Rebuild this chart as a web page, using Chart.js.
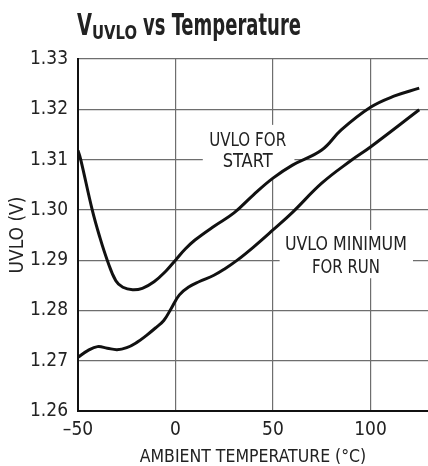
<!DOCTYPE html>
<html>
<head>
<meta charset="utf-8">
<script src="https://cdn.jsdelivr.net/npm/chart.js@4.4.0/dist/chart.umd.min.js"></script>
<style>
  html, body { margin: 0; padding: 0; background: #fff; }
</style>
</head>
<body>
<canvas id="uvloChart" width="428" height="466"></canvas>
<script>
// UVLO for start (upper curve)
const tempStart = [-50, -48.6, -42.7, -39, -35, -30.6, -27, -22, -17, -11, -5, 0, 5, 10, 20, 30, 40, 50, 60, 75, 85, 100, 112, 125];
const uvloStart = [1.3118, 1.3100, 1.3000, 1.2948, 1.2900, 1.2859, 1.2846, 1.2841, 1.2844, 1.2857, 1.2878, 1.2900, 1.2922, 1.2940, 1.2968, 1.2994, 1.3030, 1.3063, 1.3089, 1.3119, 1.3159, 1.3204, 1.3226, 1.3242];

// UVLO minimum for run (lower curve)
const tempRun = [-50, -45, -40, -35, -30, -25, -20, -15, -10, -6, -2.2, 2, 7, 12, 19.7, 25, 31.7, 40, 50, 60, 75, 90, 100, 125];
const uvloRun = [1.2707, 1.2720, 1.2728, 1.2725, 1.2722, 1.2726, 1.2736, 1.2750, 1.2766, 1.2780, 1.2804, 1.2831, 1.2847, 1.2857, 1.2870, 1.2882, 1.2900, 1.2926, 1.2960, 1.2995, 1.3053, 1.3098, 1.3125, 1.3199];

const xTicks = [-50, 0, 50, 100];
const yTicks = [1.26, 1.27, 1.28, 1.29, 1.30, 1.31, 1.32, 1.33];

const FONT = '"Liberation Sans Narrow", "Arial Narrow", "DejaVu Sans Condensed", sans-serif';
Chart.defaults.font.family = FONT;
Chart.defaults.color = '#222';

function pairs(xs, ys) {
  return xs.map((x, i) => ({ x: x, y: ys[i] }));
}

// text boxes on the grid + the title with subscript
const notes = {
  id: 'notes',
  beforeDatasetsDraw(chart) {
    const ctx = chart.ctx;
    const x = chart.scales.x, y = chart.scales.y;
    ctx.save();
    ctx.fillStyle = '#fff';
    ctx.fillRect(x.getPixelForValue(14), y.getPixelForValue(1.3169), x.getPixelForValue(61) - x.getPixelForValue(14), y.getPixelForValue(1.3064) - y.getPixelForValue(1.3169));
    ctx.fillRect(x.getPixelForValue(53.4), y.getPixelForValue(1.2960), x.getPixelForValue(121.8) - x.getPixelForValue(53.4), y.getPixelForValue(1.2864) - y.getPixelForValue(1.2960));
    ctx.fillStyle = '#222';
    ctx.font = '20px ' + FONT;
    ctx.textAlign = 'center';
    ctx.textBaseline = 'alphabetic';
    ctx.fillText('UVLO FOR', x.getPixelForValue(37), y.getPixelForValue(1.3126), 77);
    ctx.fillText('START', x.getPixelForValue(37), y.getPixelForValue(1.3085), 50);
    ctx.fillText('UVLO MINIMUM', x.getPixelForValue(87.4), y.getPixelForValue(1.2920), 122);
    ctx.fillText('FOR RUN', x.getPixelForValue(87.4), y.getPixelForValue(1.2874), 68);
    ctx.restore();
  },
  afterDraw(chart) {
    const ctx = chart.ctx;
    let left = chart.chartArea.left - 1;
    ctx.save();
    ctx.fillStyle = '#222';
    ctx.textAlign = 'left';
    ctx.textBaseline = 'alphabetic';
    ctx.font = 'bold 30px ' + FONT;
    ctx.fillText('V', left, 35, 15);
    ctx.font = 'bold 19px ' + FONT;
    ctx.fillText('UVLO', left + 15, 39, 45);
    ctx.font = 'bold 30px ' + FONT;
    ctx.fillText('vs Temperature', left + 66, 35, 158);
    ctx.restore();
  }
};

const gridStyle = {
  color: '#6e6e6e',
  lineWidth: 1.2,
  drawTicks: false
};

new Chart(document.getElementById('uvloChart'), {
  type: 'line',
  data: {
    datasets: [
      {
        label: 'UVLO FOR START',
        data: pairs(tempStart, uvloStart),
        borderColor: '#111',
        borderWidth: 3,
        pointRadius: 0,
        tension: 0.4,
        fill: false
      },
      {
        label: 'UVLO MINIMUM FOR RUN',
        data: pairs(tempRun, uvloRun),
        borderColor: '#111',
        borderWidth: 3,
        pointRadius: 0,
        tension: 0.4,
        fill: false
      }
    ]
  },
  options: {
    responsive: false,
    animation: false,
    layout: { padding: { top: 59, left: 0, right: 0, bottom: 0 } },
    plugins: {
      legend: { display: false },
      tooltip: { enabled: false }
    },
    scales: {
      x: {
        type: 'linear',
        min: -50,
        max: 129.5,
        afterBuildTicks: s => { s.ticks = xTicks.map(v => ({ value: v })); },
        afterFit: s => { s.height = 55; },
        grid: gridStyle,
        border: { color: '#111', width: 2 },
        ticks: {
          padding: 8,
          maxRotation: 0,
          font: { size: 19 },
          callback: v => (v < 0 ? '\u2013' + Math.abs(v) : String(v))
        },
        title: {
          display: true,
          text: 'AMBIENT TEMPERATURE (\u00b0C)',
          font: { size: 17.5, lineHeight: 1 },
          padding: { top: 0, bottom: 0 }
        }
      },
      y: {
        min: 1.26,
        max: 1.33,
        afterBuildTicks: s => { s.ticks = yTicks.map(v => ({ value: v })); },
        afterFit: s => { s.width = 78; },
        grid: gridStyle,
        border: { color: '#111', width: 2 },
        ticks: {
          padding: 10,
          font: { size: 19 },
          callback: v => v.toFixed(2)
        },
        title: {
          display: true,
          text: 'UVLO (V)',
          font: { size: 19, lineHeight: 1 },
          padding: { top: 9, bottom: 0 }
        }
      }
    }
  },
  plugins: [notes]
});
</script>
</body>
</html>
